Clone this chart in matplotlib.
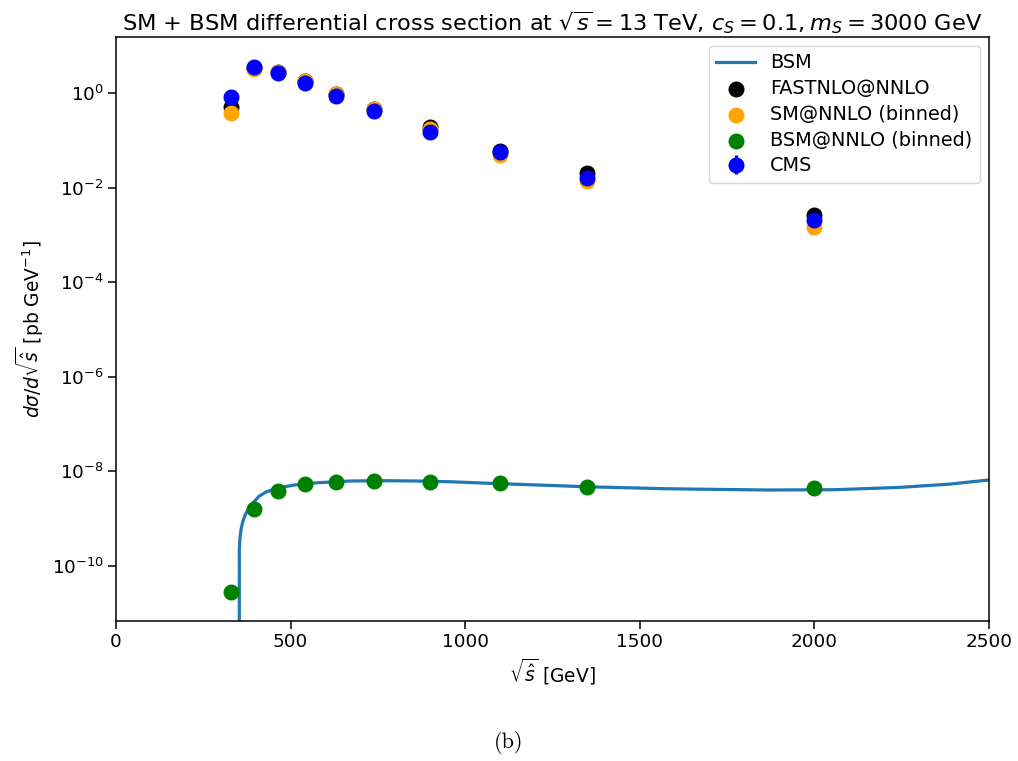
import numpy as np
import matplotlib
matplotlib.use("Agg")
import matplotlib.pyplot as plt

plt.rcParams['font.family'] = ['DejaVu Sans']
plt.rcParams['mathtext.fontset'] = 'dejavusans'

# bin centres of the invariant-mass bins [GeV]
bin_centres = [330, 395, 465, 540, 630, 740, 900, 1100, 1350, 2000]

# binned differential cross sections [pb/GeV]
fastnlo_nnlo = [0.50, 3.4, 2.8, 1.8, 0.95, 0.46, 0.188, 0.060, 0.0207, 0.00263]
sm_nnlo = [0.37, 3.2, 2.8, 1.8, 0.94, 0.45, 0.174, 0.049, 0.0138, 0.00145]
bsm_nnlo = [2.86e-11, 1.6e-9, 3.9e-9, 5.3e-9, 6.05e-9, 6.27e-9, 6.05e-9,
            5.6e-9, 4.75e-9, 4.4e-9]
cms_data = [0.81, 3.6, 2.65, 1.65, 0.86, 0.42, 0.153, 0.0557, 0.016, 0.00207]
cms_err = [0.05, 0.2, 0.15, 0.09, 0.05, 0.025, 0.01, 0.004, 0.0012, 0.0002]

# unbinned BSM contribution
bsm_mass = [352, 353, 355, 358, 364, 372, 380, 393, 410, 430, 460, 508, 575,
            670, 765, 861, 956, 1100, 1348, 1577, 1863, 2054, 2245, 2388, 2500]
bsm_curve = [0.0, 2.2e-10, 4.0e-10, 6.0e-10, 9.3e-10, 1.3e-9, 1.66e-9,
             2.2e-9, 3.0e-9, 3.7e-9, 4.4e-9, 5.13e-9, 5.75e-9, 6.27e-9,
             6.37e-9, 6.27e-9, 6.05e-9, 5.5e-9, 4.75e-9, 4.3e-9, 4.05e-9,
             4.1e-9, 4.6e-9, 5.4e-9, 6.6e-9]

fig = plt.figure(figsize=(10.18, 7.61), dpi=100)
ax = fig.add_axes([0.114, 0.184, 0.8575, 0.7675])

ax.plot(bsm_mass, bsm_curve, color='#1f77b4', lw=2.3, label='BSM')
ax.scatter(bin_centres, fastnlo_nnlo, s=110, color='black', label='FASTNLO@NNLO', zorder=3)
ax.scatter(bin_centres, sm_nnlo, s=110, color='orange', label='SM@NNLO (binned)', zorder=3)
ax.scatter(bin_centres, bsm_nnlo, s=110, color='green', label='BSM@NNLO (binned)', zorder=3)
ax.errorbar(bin_centres, cms_data, yerr=cms_err, fmt='o', color='blue',
            markersize=10.5, elinewidth=2.3, label='CMS', zorder=4)

ax.set_yscale('log')
ax.set_xlim(0, 2500)
ax.set_ylim(6.9e-12, 15.3)
ax.tick_params(labelsize=13.2, length=5.5, width=1.1)
for sp in ax.spines.values():
    sp.set_linewidth(1.1)

ax.set_title(r'SM + BSM differential cross section at $\sqrt{s}=13$ TeV, $c_S=0.1, m_S=3000$ GeV',
             fontsize=16.2, pad=5)
ax.set_xlabel(r'$\sqrt{\hat{s}}$ [GeV]', fontsize=13.4)
ax.set_ylabel(r'$d\sigma/d\sqrt{\hat{s}}$ [pb GeV$^{-1}$]', fontsize=13.4)

ax.legend(loc='upper right', fontsize=13.9, borderaxespad=0.45, labelspacing=0.35)

# sub-figure caption
fig.text(0.5, 0.024, '(b)', ha='center', va='center', fontsize=16,
         family='cmr10')

fig.savefig('out.png', dpi=100)
